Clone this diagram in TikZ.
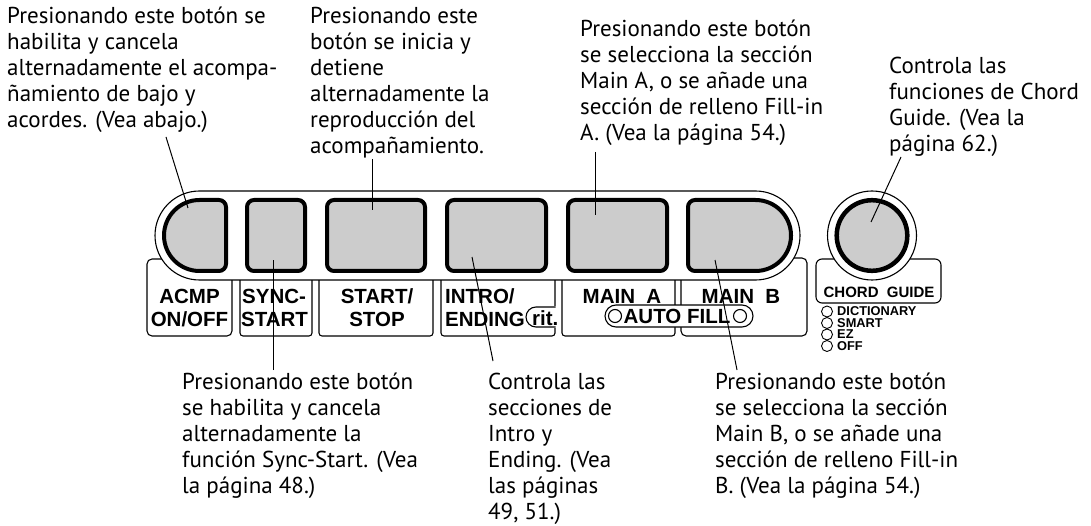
\documentclass[tikz,border=0pt]{standalone}
\usepackage{fontspec}
\newfontfamily\annfont{PT Sans}
\newfontfamily\labfont{Liberation Sans}
\newcommand\fstrut{\rule{0pt}{18pt}}
\begin{document}
\begin{tikzpicture}[x=1pt,y=-1pt,
  ann/.style={anchor=north west, inner sep=0pt, align=left, font=\annfont\fontsize{23}{26}\selectfont},
  lab/.style={anchor=base, inner sep=0pt, font=\labfont\bfseries\fontsize{20.5}{22}\selectfont},
  labw/.style={lab, anchor=base west},
  small/.style={anchor=base west, inner sep=0pt, font=\labfont\bfseries\fontsize{12.8}{12}\selectfont},
  btn/.style={draw=black, line width=4pt, fill=black!20},
  thin/.style={draw=black, line width=1.1pt},
  conn/.style={draw=black, line width=1pt}]
\useasboundingbox (0,0) rectangle (1091,526);
% lower label boxes
\draw[thin, rounded corners=5] (147,259) rectangle (232,336);
\draw[thin, rounded corners=3] (240,270) rectangle (312,336);
\draw[thin, rounded corners=3] (319,270) rectangle (433,336);
\draw[thin, rounded corners=3] (441,270) rectangle (555,336);
\draw[thin, rounded corners=3] (562,270) rectangle (675,336);
\draw[thin, rounded corners=5] (681,258) rectangle (807,336);
% rit. notch
\fill[white] (526,306) rectangle (558,328);
\draw[thin, rounded corners=10] (555.5,307) -- (526,307) -- (526,327) -- (555.5,327);
% AUTO FILL capsule
\draw[thin, fill=white, rounded corners=11] (605,305) rectangle (753,327);
\draw[thin] (615,316) circle (6.5);
\draw[thin] (740,316) circle (6.5);
% main capsule
\draw[thin, fill=white] (199.5,191) -- (755.5,191) arc[start angle=270, end angle=450, radius=44.5]
  -- (199.5,280) arc[start angle=90, end angle=270, radius=44.5] -- cycle;
% buttons
\draw[btn] (199.5,200) -- (219,200) arc[start angle=270, end angle=360, radius=7]
  -- (226,264) arc[start angle=0, end angle=90, radius=7]
  -- (199.5,271) arc[start angle=90, end angle=270, radius=35.5] -- cycle;
\draw[btn, rounded corners=7] (247,200) rectangle (305,271);
\draw[btn, rounded corners=7] (327,200) rectangle (425,271);
\draw[btn, rounded corners=7] (447,200) rectangle (546,271);
\draw[btn, rounded corners=7] (568,200) rectangle (667,271);
\draw[btn] (755.5,200) arc[start angle=270, end angle=450, radius=35.5]
  -- (695,271) arc[start angle=90, end angle=180, radius=7]
  -- (688,207) arc[start angle=180, end angle=270, radius=7] -- cycle;
% chord guide
\draw[thin, rounded corners=6] (816,259) rectangle (941,303);
\draw[thin, fill=white] (872,235.5) circle (44.5);
\draw[btn, line width=4.5pt] (872,235.5) circle (35.3);
% panel labels
\node[lab] (l1a) at (189.5,304) {ACMP};
\node[lab] (l1b) at (189.5,326) {ON/OFF};
\node[labw] (l2a) at (242,304) {SYNC-};
\node[labw] (l2b) at (241,326) {START};
\node[lab] (l3a) at (377,304) {START/};
\node[lab] (l3b) at (377,326) {STOP};
\node[labw] (l4a) at (445,304) {INTRO/};
\node[labw] (l4b) at (445,326) {ENDING};
\node[labw] (l4c) at (532,325) {rit.};
\node[lab] (l5a) at (622,303) {MAIN\ \ A};
\node[lab] (l6a) at (741,303) {MAIN\ \ B};
\node[lab] (l56) at (677,323.5) {AUTO FILL};
\node[lab, font=\labfont\bfseries\fontsize{15}{15}\selectfont] (lcg) at (879,298) {CHORD\ \ GUIDE};
\foreach \yy in {311.5,323,334.5,346} \draw[line width=0.9pt] (827,\yy) circle (5.5);
\node[small] (d1) at (837,315.5) {DICTIONARY};
\node[small] (d2) at (837,327) {SMART};
\node[small] (d3) at (837,338.5) {EZ};
\node[small] (d4) at (837,350) {OFF};
% annotations
\node[ann] (t1) at (7,5) {\fstrut Presionando este botón se\\habilita y cancela\\alternadamente el acompa-\\ñamiento de bajo y\\acordes. (Vea abajo.)};
\node[ann] (t2) at (310,5) {\fstrut Presionando este\\botón se inicia y\\detiene\\alternadamente la\\reproducción del\\acompañamiento.};
\node[ann] (t3) at (580,18) {\fstrut Presionando este botón\\se selecciona la sección\\Main A, o se añade una\\sección de relleno Fill-in\\A. (Vea la página 54.)};
\node[ann] (t4) at (889,55) {\fstrut Controla las\\funciones de Chord\\Guide. (Vea la\\página 62.)};
\node[ann] (t5) at (182,371) {\fstrut Presionando este botón\\se habilita y cancela\\alternadamente la\\función Sync-Start. (Vea\\la página 48.)};
\node[ann] (t6) at (488,371) {\fstrut Controla las\\secciones de\\Intro y\\Ending. (Vea\\las páginas\\49, 51.)};
\node[ann] (t7) at (715,371) {\fstrut Presionando este botón\\se selecciona la sección\\Main B, o se añade una\\sección de relleno Fill-in\\B. (Vea la página 54.)};
% connectors
\coordinate (c1a) at (166,137); \coordinate (c1b) at (188,208);
\coordinate (c2a) at (372,159); \coordinate (c2b) at (372,210);
\coordinate (c3a) at (595,152); \coordinate (c3b) at (595,215);
\coordinate (c4a) at (901,157); \coordinate (c4b) at (871,222);
\coordinate (c5a) at (273,370); \coordinate (c5b) at (273,260);
\coordinate (c6a) at (493,361); \coordinate (c6b) at (472,257);
\coordinate (c7a) at (737,370); \coordinate (c7b) at (715,260);
\foreach \i in {1,...,7} \draw[conn] (c\i a) -- (c\i b);
\end{tikzpicture}
\end{document}
